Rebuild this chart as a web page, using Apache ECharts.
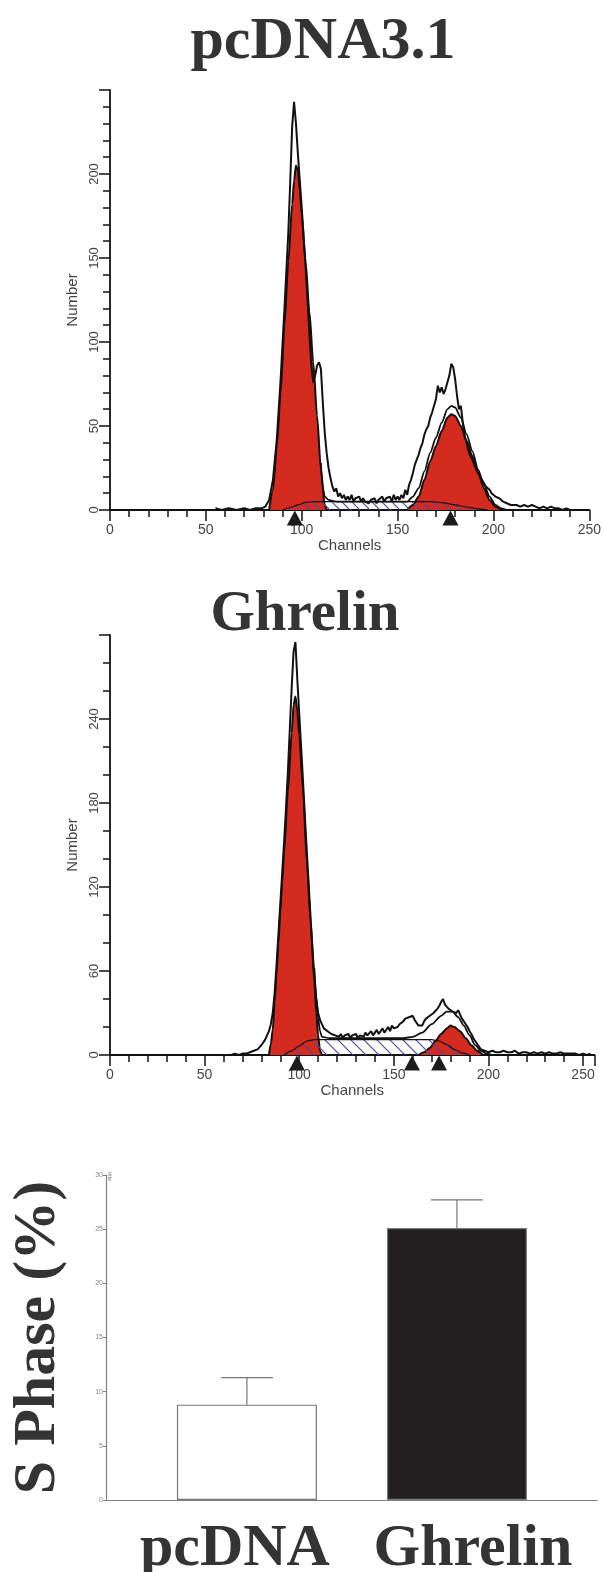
<!DOCTYPE html>
<html>
<head>
<meta charset="utf-8">
<title>S phase</title>
<script src="https://cdn.jsdelivr.net/npm/echarts@6/dist/echarts.min.js"></script>
<style>
  html, body { margin: 0; padding: 0; background: #fff; }
  #chart { width: 604px; height: 1572px; }
</style>
</head>
<body>
<div id="chart"></div>
<script>
// ---- pcDNA3.1 histogram, [channel, number] ----
const pcdnaRaw = [[55,1],[58,0],[62,1],[66,0],[70,1],[73,0],[76,1],[79,1],[81,2],[83,6],[85,18],[87,42],[89,78],[91,120],[93,165],[94,195],[95,228],[96,243],[97,230],[98,212],[99,196],[100,180],[101,162],[102,145],[103,126],[104,105],[105,86],[106,76],[107,80],[108,86],[109,88],[110,84],[111,64],[112,46],[113,34],[114,25],[115,19],[116,14],[117,11],[118,13],[119,8],[120,10],[121,7],[122,9],[123,6],[124,8],[125,6],[126,9],[127,5],[128,7],[129,6],[130,8],[131,5],[132,7],[133,5],[134,6],[135,4],[136,6],[137,5],[138,7],[139,4],[140,6],[141,5],[142,8],[143,5],[144,7],[145,6],[146,8],[147,5],[148,9],[149,6],[150,8],[151,6],[152,9],[153,7],[154,12],[155,9],[156,15],[157,18],[158,22],[159,27],[160,30],[161,33],[162,37],[163,40],[164,45],[165,48],[166,50],[167,55],[168,58],[169,62],[170,66],[171,74],[172,70],[173,73],[174,69],[175,72],[176,76],[177,80],[178,87],[179,85],[180,78],[181,68],[182,60],[183,62],[184,52],[185,44],[186,40],[187,35],[188,32],[189,30],[190,27],[191,24],[192,22],[193,20],[194,18],[195,16],[196,14],[197,15],[198,12],[199,10],[200,11],[201,8],[202,9],[203,7],[204,6],[205,5],[206,6],[207,4],[208,5],[209,3],[210,4],[212,3],[214,2],[216,3],[218,2],[220,3],[222,2],[224,1],[226,2],[228,1],[230,2],[232,1],[234,1],[236,0],[238,1],[240,0]]
const pcdnaG1 = [[83,0],[85,12],[87,38],[89,70],[91,110],[93,148],[95,182],[96,196],[97,205],[98,202],[99,190],[100,176],[102,148],[104,118],[106,88],[108,56],[110,24],[112,3],[113,0]]
const pcdnaG2 = [[155,0],[158,3],[161,8],[164,18],[167,29],[170,38],[173,47],[176,55],[178,57],[180,56],[183,50],[186,41],[189,32],[192,22],[195,13],[198,6],[201,2],[204,0]]
const pcdnaS = [[90,0],[94,1.5],[98,3],[102,4.5],[106,5],[120,5],[140,5],[160,5],[168,5],[174,4.2],[180,3],[186,1.8],[192,0.7],[197,0]]
const pcdnaFit = [[110,28],[111,13],[112,8],[114,6],[118,5],[130,5],[145,5],[155,5],[158,8],[161,13],[164,23],[167,34],[170,43],[173,52],[176,60],[178,62],[180,61],[183,55],[186,45],[189,35],[192,24],[195,15],[198,8],[201,3],[204,1],[207,0]]
const pcdnaMarks = [96.4, 177.6]

// ---- Ghrelin histogram ----
const ghrRaw = [[64,0],[66,1],[68,0],[70,1],[72,1],[74,2],[76,3],[78,4],[80,7],[82,11],[83,14],[84,17],[85,22],[86,30],[87,44],[88,64],[89,86],[90,108],[91,130],[92,152],[93,176],[94,202],[95,232],[96,262],[97,288],[98,295],[99,268],[100,244],[101,220],[102,196],[103,170],[104,146],[105,122],[106,98],[107,76],[108,56],[109,40],[110,30],[111,25],[112,22],[113,19],[114,20],[115,17],[116,18],[117,15],[118,16],[119,14],[120,15],[121,13],[122,15],[123,12],[124,14],[125,13],[126,15],[127,12],[128,14],[129,13],[130,15],[131,12],[132,14],[133,15],[134,13],[135,16],[136,14],[137,15],[138,17],[139,14],[140,16],[141,18],[142,15],[143,17],[144,19],[145,16],[146,18],[147,20],[148,17],[149,21],[150,19],[151,18],[152,20],[153,22],[154,21],[155,24],[156,26],[157,25],[158,27],[159,26],[160,28],[161,25],[162,23],[163,21],[164,22],[165,21],[166,24],[167,26],[168,25],[169,28],[170,27],[171,30],[172,29],[173,33],[174,35],[175,38],[176,40],[177,36],[178,37],[179,33],[180,34],[181,31],[182,32],[183,30],[184,32],[185,29],[186,26],[187,24],[188,22],[189,20],[190,17],[191,15],[192,12],[193,10],[194,8],[195,6],[196,4],[197,3],[198,3],[200,2],[202,3],[204,2],[206,2],[208,3],[210,2],[212,2],[214,3],[216,1],[218,2],[220,2],[222,1],[224,2],[226,1],[228,2],[230,1],[232,2],[234,1],[236,1],[238,2],[240,1],[242,1],[244,1],[246,1],[248,0],[250,1],[252,0],[254,1]]
const ghrG1 = [[84,0],[85,8],[86,18],[87,38],[88,58],[89,80],[90,102],[91,123],[92,145],[94,188],[96,230],[97,250],[98,256],[99,246],[100,228],[102,190],[104,138],[106,96],[108,52],[109,30],[110,14],[111,3],[112,0]]
const ghrG2 = [[163,0],[166,2],[169,5],[172,10],[175,15],[178,19],[180,21],[182,20],[185,17],[188,12],[191,7],[194,3],[197,0]]
const ghrS = [[92,0],[96,3],[100,6.5],[104,10],[108,11],[130,11],[150,11],[165,11],[170,11],[174,10],[178,7.5],[182,4],[186,1.5],[190,0]]
const ghrFit = [[108,62],[109,41],[110,26],[111,17],[112,13],[116,12],[125,12],[140,12],[155,12],[160,13],[165,16],[170,22],[175,28],[178,31],[181,31],[184,27],[187,21],[190,14],[193,7],[196,3],[199,1],[202,0]]
const ghrMarks = [98.8, 159.6, 173.9]

// ---- S phase bar chart ----
const groups = ['pcDNA', 'Ghrelin']
const sPhaseMean = [8.8, 25.1]
const sPhaseErr = [2.5, 2.6]

const RED = '#d52a1e'
const INK = '#111'
const SERIF = '"Liberation Serif", "Times New Roman", serif'
const SANS = '"Liberation Sans", Arial, sans-serif'
// the group names under the bars are not quite centred on them
const labelNudge = [-12, 16]

// diagonal hatch used by the S-phase fit
function hatch (step) {
  const c = document.createElement('canvas')
  c.width = step
  c.height = step
  const ctx = c.getContext('2d')
  ctx.strokeStyle = '#4d4d9e'
  ctx.lineWidth = 1.2
  ctx.beginPath()
  ctx.moveTo(-1, -1); ctx.lineTo(step + 1, step + 1)
  ctx.moveTo(-1, step - 1); ctx.lineTo(1, step + 1)
  ctx.moveTo(step - 1, -1); ctx.lineTo(step + 1, 1)
  ctx.stroke()
  return c
}

function histX (g, max) {
  return {
    type: 'value', gridIndex: g, min: 0, max: max, interval: 50,
    name: 'Channels', nameLocation: 'middle', nameGap: 25,
    nameTextStyle: { fontFamily: SANS, fontSize: 15, color: '#444' },
    axisLine: { lineStyle: { color: INK, width: 1.8 } },
    axisTick: { length: 11, lineStyle: { color: INK, width: 1.5 } },
    minorTick: { show: true, splitNumber: 5, length: 7, lineStyle: { color: INK, width: 1.5 } },
    axisLabel: { margin: 13, fontFamily: SANS, fontSize: 14, color: '#444', formatter: v => (v % 50 === 0 ? v : '') },
    splitLine: { show: false }
  }
}

function histY (g, max, step, minor) {
  return {
    type: 'value', gridIndex: g, min: 0, max: max, interval: step,
    name: 'Number', nameLocation: 'middle', nameRotate: 90, nameGap: 19,
    nameTextStyle: { fontFamily: SANS, fontSize: 15, color: '#444' },
    axisLine: { show: true, lineStyle: { color: INK, width: 1.8 } },
    axisTick: { length: 11, lineStyle: { color: INK, width: 1.5 } },
    minorTick: { show: true, splitNumber: minor, length: 7, lineStyle: { color: INK, width: 1.5 } },
    axisLabel: { rotate: 90, margin: 9, fontFamily: SANS, fontSize: 13, color: '#444', formatter: v => (v < max ? v : '') },
    splitLine: { show: false }
  }
}

function histSeries (g, raw, g1, g2, s, fit, marks, hatchStep) {
  const base = { xAxisIndex: g, yAxisIndex: g, showSymbol: false, silent: true }
  return [
    Object.assign({ type: 'line', data: g1, smooth: 0.25, smoothMonotone: 'x', lineStyle: { color: INK, width: 2 }, areaStyle: { color: RED, opacity: 1 }, z: 2 }, base),
    Object.assign({ type: 'line', data: g2, smooth: 0.25, smoothMonotone: 'x', lineStyle: { color: INK, width: 2 }, areaStyle: { color: RED, opacity: 1 }, z: 2 }, base),
    Object.assign({ type: 'line', data: s, smooth: 0.25, smoothMonotone: 'x', lineStyle: { color: INK, width: 1.2 }, areaStyle: { color: { image: hatch(hatchStep), repeat: 'repeat' }, opacity: 1 }, z: 3 }, base),
    Object.assign({ type: 'line', data: fit, smooth: 0.25, smoothMonotone: 'x', lineStyle: { color: INK, width: 1.8 }, z: 4 }, base),
    Object.assign({ type: 'line', data: raw, lineStyle: { color: INK, width: 2 }, z: 5 }, base),
    Object.assign({
      type: 'scatter', data: marks.map(c => [c, 0]), symbol: 'triangle', symbolSize: [16, 15], symbolOffset: [0, 8],
      itemStyle: { color: '#1c1c1c', opacity: 1 }, clip: false, z: 6
    }, base)
  ]
}

const titleStyle = { fontFamily: SERIF, fontWeight: 'bold', color: '#343434' }

const chart = echarts.init(document.getElementById('chart'), null, { renderer: 'canvas' })

chart.setOption({
  animation: false,
  backgroundColor: '#fff',
  title: [
    { text: 'pcDNA3.1', left: 318, top: 7, textAlign: 'center', textStyle: Object.assign({ fontSize: 60 }, titleStyle) },
    { text: 'Ghrelin', left: 300, top: 582, textAlign: 'center', textStyle: Object.assign({ fontSize: 57 }, titleStyle) }
  ],
  grid: [
    { left: 110, top: 90, width: 480, height: 420 },
    { left: 110, top: 635, width: 484.4, height: 420 },
    { left: 106, top: 1175, width: 491, height: 325 }
  ],
  xAxis: [
    histX(0, 250),
    histX(1, 256),
    {
      type: 'value', gridIndex: 2, min: 0.329, max: 2.667,
      axisLine: { lineStyle: { color: '#808080', width: 1.2 } },
      axisTick: { show: false }, axisLabel: { show: false }, splitLine: { show: false }
    }
  ],
  yAxis: [
    histY(0, 250, 50, 5),
    histY(1, 300, 60, 3),
    {
      type: 'value', gridIndex: 2, min: 0, max: 30, interval: 5,
      name: 'S Phase (%)', nameLocation: 'middle', nameRotate: 90, nameGap: 38,
      nameTextStyle: { fontFamily: SERIF, fontWeight: 'bold', fontSize: 60, color: '#343434' },
      axisLine: { show: true, lineStyle: { color: '#808080', width: 1.2 } },
      axisTick: { length: 3, lineStyle: { color: '#808080' } },
      axisLabel: { margin: 3, fontFamily: SANS, fontSize: 7, color: '#888' },
      splitLine: { show: false }
    }
  ],
  graphic: [
    { type: 'text', x: 113, y: 1172, rotation: -Math.PI / 2, style: { text: 'title', fontSize: 6, fontFamily: SANS, fill: '#777' } }
  ],
  series: [
    ...histSeries(0, pcdnaRaw, pcdnaG1, pcdnaG2, pcdnaS, pcdnaFit, pcdnaMarks, 10),
    ...histSeries(1, ghrRaw, ghrG1, ghrG2, ghrS, ghrFit, ghrMarks, 13),
    {
      type: 'bar', xAxisIndex: 2, yAxisIndex: 2, barWidth: 140, silent: true,
      data: groups.map((g, i) => ({
        name: g,
        value: [i + 1, sPhaseMean[i]],
        itemStyle: { color: i === 0 ? '#fff' : '#231f20', borderColor: '#777', borderWidth: 1.2 },
        label: { offset: [labelNudge[i], 0] }
      })),
      label: {
        show: true, position: 'bottom', distance: 19, formatter: p => p.name,
        fontFamily: SERIF, fontWeight: 'bold', fontSize: 60, color: '#343434'
      }
    },
    {
      type: 'custom', xAxisIndex: 2, yAxisIndex: 2, silent: true, z: 3,
      data: groups.map((g, i) => [i + 1, sPhaseMean[i], sPhaseMean[i] + sPhaseErr[i]]),
      renderItem (params, api) {
        const lo = api.coord([api.value(0), api.value(1)])
        const hi = api.coord([api.value(0), api.value(2)])
        const half = 26
        const style = { stroke: '#777', lineWidth: 1.2 }
        return {
          type: 'group',
          children: [
            { type: 'line', shape: { x1: lo[0], y1: lo[1], x2: hi[0], y2: hi[1] }, style },
            { type: 'line', shape: { x1: hi[0] - half, y1: hi[1], x2: hi[0] + half, y2: hi[1] }, style }
          ]
        }
      }
    }
  ]
})
</script>
</body>
</html>
